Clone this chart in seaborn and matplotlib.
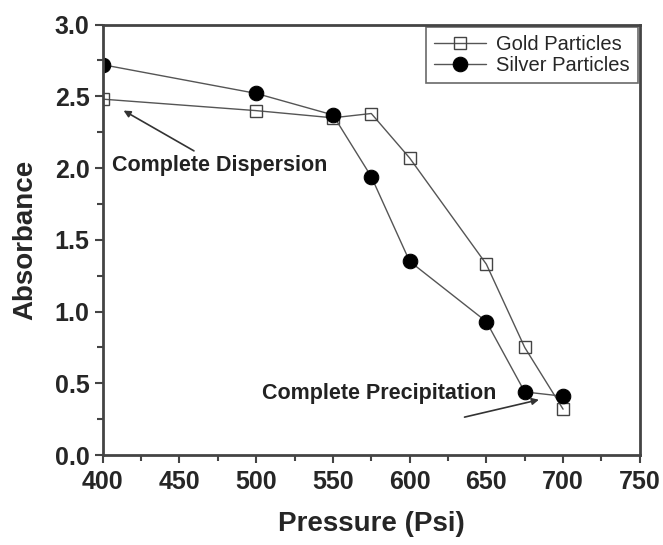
import seaborn as sns
import matplotlib.pyplot as plt
from matplotlib.ticker import MultipleLocator

pressure = [400, 500, 550, 575, 600, 650, 675, 700]
gold = [2.48, 2.40, 2.35, 2.38, 2.07, 1.33, 0.75, 0.32]
silver = [2.72, 2.52, 2.37, 1.94, 1.35, 0.93, 0.44, 0.41]

sns.set_style("ticks")
plt.rcParams['font.family'] = ['Liberation Sans', 'DejaVu Sans']

fig = plt.figure(figsize=(6.63, 5.45), dpi=100)
ax = fig.add_axes([0.155, 0.165, 0.81, 0.79])

sns.lineplot(x=pressure, y=gold, ax=ax, color="#555555", linewidth=1,
             marker="s", markersize=8, markerfacecolor="none",
             markeredgecolor="#444444", markeredgewidth=1, label="Gold Particles")
sns.lineplot(x=pressure, y=silver, ax=ax, color="#555555", linewidth=1,
             marker="o", markersize=10.5, markerfacecolor="black",
             markeredgecolor="black", label="Silver Particles")

ax.set_xlim(400, 750)
ax.set_ylim(0, 3.0)
ax.xaxis.set_major_locator(MultipleLocator(50))
ax.xaxis.set_minor_locator(MultipleLocator(25))
ax.yaxis.set_major_locator(MultipleLocator(0.5))
ax.yaxis.set_minor_locator(MultipleLocator(0.25))
ax.yaxis.set_major_formatter(plt.FormatStrFormatter('%.1f'))
ax.tick_params(which='major', direction='out', length=6, width=1.5,
               labelsize=18, color="#444444")
ax.tick_params(axis='x', which='major', pad=5)
ax.tick_params(which='minor', direction='out', length=4, width=1.5, color="#444444")
for lbl in ax.get_xticklabels() + ax.get_yticklabels():
    lbl.set_fontweight('bold')
for s in ax.spines.values():
    s.set_linewidth(2)
    s.set_color("#444444")

ax.set_xlabel("Pressure (Psi)", fontsize=20, fontweight='bold', labelpad=12)
ax.set_ylabel("Absorbance", fontsize=20, fontweight='bold', labelpad=12)

ax.annotate("", xy=(412, 2.41), xytext=(461, 2.11),
            arrowprops=dict(arrowstyle="-|>", color="#333333", lw=1.2))
ax.text(406, 2.02, "Complete Dispersion", fontsize=15.5, fontweight='bold',
        va='center', ha='left', color="#222222")
ax.annotate("", xy=(686, 0.39), xytext=(634, 0.26),
            arrowprops=dict(arrowstyle="-|>", color="#333333", lw=1.2))
ax.text(504, 0.43, "Complete Precipitation", fontsize=15.5, fontweight='bold',
        va='center', ha='left', color="#222222")

leg = ax.legend(loc="upper right", fontsize=14.5, frameon=True, fancybox=False,
                borderaxespad=0.1, handlelength=2.6, labelspacing=0.1,
                borderpad=0.4, handletextpad=0.5, edgecolor="#444444")
leg.get_frame().set_linewidth(1.2)

fig.savefig("out.png", dpi=100)
